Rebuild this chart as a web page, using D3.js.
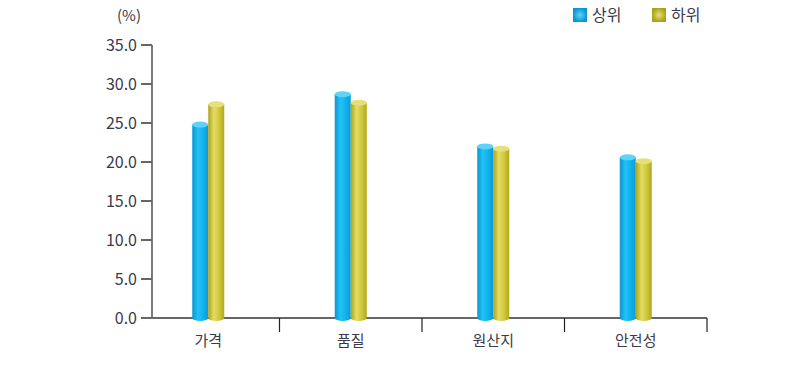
<!DOCTYPE html>
<html>
<head>
<meta charset="utf-8">
<script src="https://cdn.jsdelivr.net/npm/d3@7"></script>
<style>
  body { margin: 0; background: #fff; }
  svg { display: block; }
  text { font-family: "Noto Sans CJK KR", "DejaVu Sans", sans-serif; fill: #3a3a4a; }
</style>
</head>
<body>
<svg id="chart" width="810" height="376"></svg>
<script>
// data
const categories = ["가격", "품질", "원산지", "안전성"];
const seriesNames = ["상위", "하위"];
const upper = [24.8, 28.7, 22.0, 20.6];
const lower = [27.4, 27.6, 21.7, 20.1];
const yTicks = [0, 5, 10, 15, 20, 25, 30, 35];

const svg = d3.select("#chart");
const defs = svg.append("defs");

const palette = {
  "상위": { stops: ["#0896d2", "#22c2f4", "#12b0ec", "#0a9ad6"], top: "#5fd3f7" },
  "하위": { stops: ["#aaa316", "#e4dc64", "#cfc63a", "#b0a81c"], top: "#e6df7a" }
};

seriesNames.forEach((s, i) => {
  const g = defs.append("linearGradient")
    .attr("id", "grad" + i)
    .attr("x1", "0%").attr("x2", "100%").attr("y1", "0%").attr("y2", "0%");
  const p = palette[s].stops;
  [0, 0.35, 0.7, 1].forEach((o, k) => {
    g.append("stop").attr("offset", o).attr("stop-color", p[k]);
  });
  const r = defs.append("radialGradient").attr("id", "leg" + i);
  r.append("stop").attr("offset", 0).attr("stop-color", palette[s].top);
  r.append("stop").attr("offset", 1).attr("stop-color", p[0]);
});

const x0 = d3.scaleBand().domain(categories).range([137, 707]);
const x1 = d3.scaleBand().domain(seriesNames).range([-16, 16]);
const y = d3.scaleLinear().domain([0, 35]).range([318, 45]);

// y axis
const yAxis = svg.append("g").attr("transform", "translate(152,0)");
yAxis.append("line")
  .attr("x1", 0).attr("x2", 0)
  .attr("y1", y(35)).attr("y2", y(0))
  .attr("stroke", "#222").attr("stroke-width", 1.2);
yAxis.selectAll("line.tick").data(yTicks).enter().append("line")
  .attr("class", "tick")
  .attr("x1", -11).attr("x2", 0)
  .attr("y1", d => y(d)).attr("y2", d => y(d))
  .attr("stroke", "#666").attr("stroke-width", 2);
yAxis.selectAll("text").data(yTicks).enter().append("text")
  .attr("x", -15)
  .attr("y", d => y(d))
  .attr("dy", "0.36em")
  .attr("text-anchor", "end")
  .style("font-size", "16px")
  .text(d => d.toFixed(1));

svg.append("text")
  .attr("x", 129).attr("y", 21)
  .attr("text-anchor", "middle")
  .style("font-size", "15px")
  .text("(%)");

// x axis
svg.append("line")
  .attr("x1", 141).attr("x2", 707)
  .attr("y1", y(0)).attr("y2", y(0))
  .attr("stroke", "#666").attr("stroke-width", 2);
svg.selectAll("line.sep").data(categories).enter().append("line")
  .attr("class", "sep")
  .attr("x1", d => x0(d) + x0.bandwidth()).attr("x2", d => x0(d) + x0.bandwidth())
  .attr("y1", y(0)).attr("y2", y(0) + 14)
  .attr("stroke", "#222").attr("stroke-width", 1.2);
svg.selectAll("text.cat").data(categories).enter().append("text")
  .attr("class", "cat")
  .attr("x", d => x0(d) + x0.bandwidth() / 2)
  .attr("y", 346)
  .attr("text-anchor", "middle")
  .style("font-size", "15px")
  .text(d => d);

// cylinders
const rows = [];
categories.forEach((c, i) => {
  rows.push({ cat: c, s: "상위", si: 0, v: upper[i] });
  rows.push({ cat: c, s: "하위", si: 1, v: lower[i] });
});

const bw = x1.bandwidth();
const ry = 3;
const bars = svg.append("g").selectAll("g").data(rows).enter().append("g")
  .attr("transform", d => `translate(${x0(d.cat) + x0.bandwidth() / 2 + x1(d.s)},0)`);

bars.append("path")
  .attr("d", d => {
    const top = y(d.v), bot = y(0);
    return `M0,${top} L0,${bot} A${bw / 2},${ry} 0 0 0 ${bw},${bot} L${bw},${top} Z`;
  })
  .attr("fill", d => `url(#grad${d.si})`);
bars.append("ellipse")
  .attr("cx", bw / 2).attr("cy", d => y(d.v))
  .attr("rx", bw / 2).attr("ry", ry)
  .attr("fill", d => palette[d.s].top);

// legend
const legend = svg.append("g").selectAll("g").data(seriesNames).enter().append("g")
  .attr("transform", (d, i) => `translate(${573 + i * 79},8)`);
legend.append("rect")
  .attr("width", 14).attr("height", 14)
  .attr("fill", (d, i) => `url(#leg${i})`);
legend.append("text")
  .attr("x", 19).attr("y", 7)
  .attr("dy", "0.36em")
  .style("font-size", "16px")
  .text(d => d);
</script>
</body>
</html>
